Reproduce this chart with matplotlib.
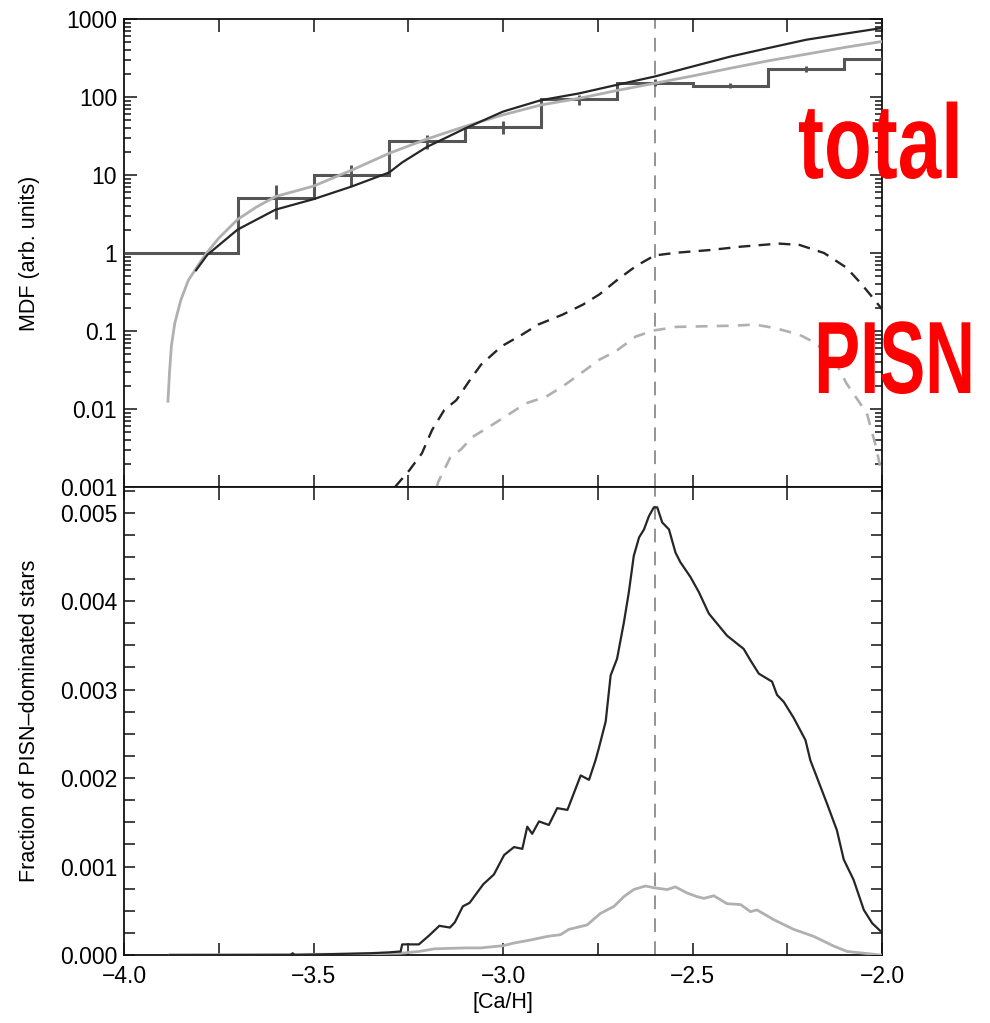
import matplotlib
matplotlib.use("Agg")
import matplotlib.pyplot as plt
from matplotlib.ticker import FixedLocator, FuncFormatter, MultipleLocator, LogLocator, NullFormatter
from matplotlib.patheffects import AbstractPathEffect
from matplotlib.transforms import Affine2D

plt.rcParams['font.family'] = ['Liberation Sans', 'DejaVu Sans']

# ---------------- data ----------------
# observed histogram (top panel)
hist_edges = [-4.0, -3.7, -3.5, -3.3, -3.1, -2.9, -2.7, -2.5, -2.3, -2.1, -2.0]
hist_vals = [1.0, 5.0, 10.0, 27.0, 41.5, 93.0, 153.0, 140.0, 229.0, 305.0]
err_x = [-3.6, -3.4, -3.2, -3.0, -2.8, -2.6, -2.4, -2.2, -2.0]
err_lo = [2.7, 7.3, 21.8, 34.0, 79.0, 140.0, 129.0, 212.0, 285.0]
err_hi = [7.5, 13.5, 33.0, 49.5, 106.0, 168.0, 153.0, 251.0, 324.0]

# model total MDF, dark
tot_dark_x = [-3.81, -3.78, -3.70, -3.60, -3.50, -3.40, -3.30, -3.266, -3.20, -3.10, -3.00, -2.90, -2.80,
              -2.70, -2.60, -2.50, -2.40, -2.30, -2.20, -2.10, -2.00]
tot_dark_y = [0.6, 0.95, 2.0, 3.6, 4.9, 7.1, 10.8, 14.5, 23.0, 39.5, 65.0, 91.0, 111.0,
              143.0, 183.0, 246.0, 330.0, 424.0, 542.0, 646.0, 766.0]

# model total MDF, light
tot_light_x = [-3.884, -3.880, -3.875, -3.866, -3.85, -3.83, -3.818, -3.80, -3.782, -3.75, -3.70, -3.65,
               -3.60, -3.50, -3.40, -3.30, -3.20, -3.10, -3.00, -2.90, -2.80, -2.70, -2.60, -2.50,
               -2.40, -2.30, -2.20, -2.10, -2.00]
tot_light_y = [0.0126, 0.029, 0.064, 0.126, 0.25, 0.45, 0.55, 0.75, 1.0, 1.55, 2.7, 3.9,
               5.3, 7.2, 11.5, 19.0, 29.0, 42.0, 59.0, 79.0, 96.0, 121.0, 150.0, 186.0,
               234.0, 291.0, 354.0, 431.0, 515.0]

# PISN-dominated MDF, dark (dashed)
pisn_dark_x = [-3.285, -3.247, -3.214, -3.187, -3.155, -3.123, -3.09, -3.058, -3.004, -2.95, -2.907,
               -2.843, -2.789, -2.746, -2.697, -2.649, -2.60, -2.541, -2.455, -2.369, -2.272, -2.218,
               -2.153, -2.094, -2.056, -2.024, -2.0]
pisn_dark_y = [0.001, 0.00164, 0.0027, 0.0054, 0.0097, 0.013, 0.0225, 0.037, 0.0636, 0.0897, 0.121,
               0.162, 0.218, 0.294, 0.458, 0.68, 0.93, 1.01, 1.09, 1.21, 1.32, 1.27,
               1.0, 0.65, 0.41, 0.266, 0.19]

# PISN-dominated MDF, light (dashed)
pisn_light_x = [-3.175, -3.171, -3.139, -3.112, -3.08, -3.037, -2.994, -2.94, -2.886, -2.843, -2.80,
                -2.746, -2.703, -2.649, -2.60, -2.541, -2.466, -2.39, -2.336, -2.282, -2.218, -2.175,
                -2.121, -2.094, -2.04, -2.018, -2.002]
pisn_light_y = [0.001, 0.00116, 0.0024, 0.003, 0.0044, 0.0059, 0.008, 0.0118, 0.0144, 0.0194, 0.0274,
                0.0428, 0.0547, 0.0853, 0.102, 0.113, 0.115, 0.117, 0.121, 0.109, 0.0897, 0.070,
                0.0387, 0.0214, 0.0088, 0.0036, 0.0016]

# fraction of PISN-dominated stars, dark
frac_dark_x = [-3.88, -3.60, -3.56, -3.555, -3.55, -3.45, -3.35, -3.30, -3.27, -3.266, -3.222, -3.195,
               -3.168, -3.14, -3.127, -3.106, -3.088, -3.052, -3.024, -2.997, -2.971, -2.949, -2.936,
               -2.923, -2.905, -2.879, -2.857, -2.830, -2.795, -2.773, -2.756, -2.747, -2.729, -2.716,
               -2.699, -2.681, -2.668, -2.655, -2.641, -2.628, -2.615, -2.602, -2.593, -2.58, -2.562,
               -2.545, -2.532, -2.505, -2.483, -2.457, -2.409, -2.365, -2.347, -2.325, -2.29, -2.277,
               -2.259, -2.233, -2.202, -2.189, -2.171, -2.145, -2.119, -2.101, -2.075, -2.048, -2.026,
               -2.004]
frac_dark_y = [0.0, 0.0, 0.0, 0.00002, 0.0, 0.00001, 0.00002, 0.00003, 0.00004, 0.00012, 0.00012, 0.00022,
               0.00033, 0.00031, 0.00037, 0.00055, 0.00059, 0.0008, 0.00091, 0.00113, 0.00122, 0.0012, 0.00145,
               0.00137, 0.00151, 0.00147, 0.00166, 0.00164, 0.00203, 0.00198, 0.0022, 0.00234, 0.00264, 0.00316,
               0.00335, 0.00376, 0.0041, 0.00451, 0.00472, 0.00481, 0.00496, 0.00506, 0.00506, 0.00489, 0.00481,
               0.00455, 0.00444, 0.00427, 0.0041, 0.00386, 0.00361, 0.00346, 0.00333, 0.00318, 0.00309, 0.00294,
               0.00286, 0.00268, 0.00243, 0.0022, 0.002, 0.00171, 0.00141, 0.00108, 0.00085, 0.00051, 0.00036,
               0.00027]

# fraction of PISN-dominated stars, light
frac_light_x = [-3.88, -3.40, -3.27, -3.222, -3.18, -3.10, -3.059, -3.0, -2.971, -2.927, -2.883, -2.848,
                -2.826, -2.778, -2.743, -2.707, -2.681, -2.655, -2.624, -2.602, -2.567, -2.545, -2.514,
                -2.488, -2.47, -2.444, -2.409, -2.373, -2.347, -2.33, -2.286, -2.233, -2.18, -2.127,
                -2.092, -2.004]
frac_light_y = [0.0, 0.00001, 0.00002, 0.00004, 0.00007, 0.00008, 0.00008, 0.000105, 0.000135, 0.00017,
                0.00021, 0.00023, 0.00029, 0.00034, 0.00047, 0.00055, 0.00066, 0.00074, 0.00078, 0.00076,
                0.00074, 0.00077, 0.0007, 0.00066, 0.00064, 0.00067, 0.00058, 0.00057, 0.00049, 0.00051,
                0.0004, 0.00029, 0.00021, 0.0001, 0.00004, 0.0]

peak_x = -2.6
top_ticks = [0.001, 0.01, 0.1, 1, 10, 100, 1000]
top_labels = ['0.001', '0.01', '0.1', '1', '10', '100', '1000']


# horizontal squeeze for condensed-looking annotation text
class XSqueeze(AbstractPathEffect):
    def __init__(self, sx, cx):
        super().__init__()
        self.sx = sx
        self.cx = cx

    def draw_path(self, renderer, gc, tpath, affine, rgbFace=None):
        t = affine + Affine2D().translate(-self.cx, 0).scale(self.sx, 1).translate(self.cx, 0)
        renderer.draw_path(gc, tpath, t, rgbFace)


# ---------------- figure ----------------
W, H = 990, 1023
fig = plt.figure(figsize=(W / 100, H / 100), dpi=100)
L, R = 124 / W, 882 / W
y_top, y_mid, y_bot = 1 - 19 / H, 1 - 487 / H, 1 - 955 / H
ax1 = fig.add_axes([L, y_mid, R - L, y_top - y_mid])
ax2 = fig.add_axes([L, y_bot, R - L, y_mid - y_bot])

DARK = '#262626'
LIGHT = '#b0b0b0'
HIST = '#555555'

# top panel
ax1.stairs(hist_vals, hist_edges, color=HIST, lw=2.2, baseline=None, zorder=3)
ax1.vlines(err_x, err_lo, err_hi, color=HIST, lw=2.1, zorder=3)
ax1.plot(tot_light_x, tot_light_y, color=LIGHT, lw=2.0, zorder=4)
ax1.plot(tot_dark_x, tot_dark_y, color=DARK, lw=1.6, zorder=5)
ax1.plot(pisn_dark_x, pisn_dark_y, color=DARK, lw=1.7, dashes=(5.0, 3.5), zorder=5)
ax1.plot(pisn_light_x, pisn_light_y, color=LIGHT, lw=1.9, dashes=(4.5, 3.5), zorder=4)
ax1.axvline(peak_x, color='#777777', lw=1.1, dashes=(9, 6), zorder=2)

ax1.set_yscale('log')
ax1.set_xlim(-4.0, -2.0)
ax1.set_ylim(0.001, 1000)
ax1.yaxis.set_major_locator(FixedLocator(top_ticks))
ax1.yaxis.set_major_formatter(FuncFormatter(
    lambda v, p: top_labels[top_ticks.index(min(top_ticks, key=lambda t: abs(t - v)))]))
ax1.yaxis.set_minor_locator(LogLocator(base=10, subs=range(2, 10), numticks=20))
ax1.yaxis.set_minor_formatter(NullFormatter())
ax1.set_ylabel('MDF (arb. units)', fontsize=15.5)
ax1.yaxis.set_label_coords(-0.111, 0.5)

# bottom panel
ax2.plot(frac_light_x, frac_light_y, color=LIGHT, lw=2.0, zorder=4)
ax2.plot(frac_dark_x, frac_dark_y, color=DARK, lw=1.6, zorder=5)
ax2.axvline(peak_x, color='#777777', lw=1.1, dashes=(9, 6), zorder=2)
ax2.set_xlim(-4.0, -2.0)
ax2.set_ylim(0.0, 0.00529)
ax2.yaxis.set_major_locator(MultipleLocator(0.001))
ax2.yaxis.set_minor_locator(MultipleLocator(0.00025))
ax2.yaxis.set_major_formatter(FuncFormatter(lambda v, p: f'{v:.3f}'))
ax2.set_ylabel('Fraction of PISN\u2013dominated stars', fontsize=15.5)
ax2.yaxis.set_label_coords(-0.111, 0.5)
ax2.set_xlabel('[Ca/H]', fontsize=15.5, labelpad=3)

for ax in (ax1, ax2):
    ax.xaxis.set_major_locator(MultipleLocator(0.5))
    ax.xaxis.set_minor_locator(MultipleLocator(0.25))
    ax.tick_params(which='both', direction='in', top=True, right=True, labelsize=16.5,
                   width=1.1, color='#111111', pad=5)
    ax.tick_params(axis='x', which='both', length=9, pad=7)
    for s in ax.spines.values():
        s.set_linewidth(1.3)
        s.set_color('#111111')
ax1.tick_params(axis='y', which='major', length=9)
ax1.tick_params(axis='y', which='minor', length=5)
ax2.tick_params(axis='y', which='both', length=8)
ax1.tick_params(axis='x', labelbottom=False)
ax2.xaxis.set_major_formatter(FuncFormatter(lambda v, p: f'{v:.1f}'.replace('-', '\u2212')))

# red annotations (condensed look via horizontal squeeze about a pivot,
# anchored so the text box stays inside the figure)
fig.text(985 / W, 1 - 178 / H, 'total', color='red', fontsize=76, fontweight='bold',
         family=['Liberation Sans', 'DejaVu Sans'], ha='right', va='baseline',
         path_effects=[XSqueeze(0.74, 900)])
fig.text(985 / W, 1 - 393 / H, 'PISN', color='red', fontsize=74, fontweight='bold',
         family=['Liberation Sans', 'DejaVu Sans'], ha='right', va='baseline',
         path_effects=[XSqueeze(0.67, 954)])

fig.savefig('out.png', dpi=100)
